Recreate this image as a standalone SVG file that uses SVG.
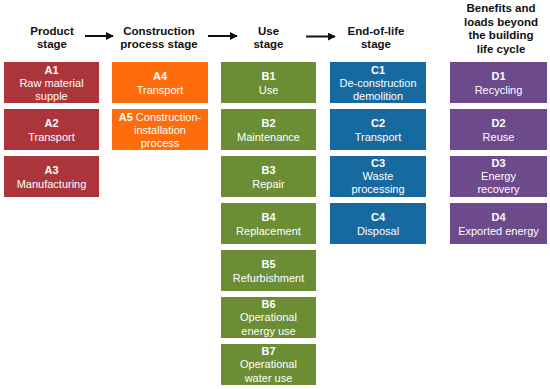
<svg xmlns="http://www.w3.org/2000/svg" width="550" height="389" viewBox="0 0 550 389">
<style>
.h{font-family:"Liberation Sans",Arial,sans-serif;font-weight:bold;font-size:11.5px;fill:#111;text-anchor:middle}
.t{font-family:"Liberation Sans",Arial,sans-serif;font-size:11px;fill:#fff;text-anchor:middle}
.b{font-weight:bold}
.A{fill:#ab353b}.O{fill:#fe6c0c}.G{fill:#6b8e35}.C{fill:#176aa0}.D{fill:#6c4a8c}
.arr{stroke:#111;stroke-width:2;fill:none;marker-end:url(#ah)}
</style>
<defs>
<marker id="ah" viewBox="0 0 10 10" refX="9" refY="5" markerWidth="4" markerHeight="4" orient="auto" markerUnits="strokeWidth">
<path d="M0,0 L10,5 L0,10 z" fill="#111"/>
</marker>
</defs>
<rect width="550" height="389" fill="#fff"/>
<g id="headers">
<text class="h" x="52" y="34.5">Product<tspan x="52" dy="13.5">stage</tspan></text>
<text class="h" x="159" y="34.5">Construction<tspan x="159" dy="13.5">process stage</tspan></text>
<text class="h" x="268.5" y="34.5">Use<tspan x="268.5" dy="13.5">stage</tspan></text>
<text class="h" x="376" y="34.5">End-of-life<tspan x="376" dy="13.5">stage</tspan></text>
<text class="h" x="501" y="12">Benefits and<tspan x="501" dy="13.7">loads beyond</tspan><tspan x="501" dy="13.7">the building</tspan><tspan x="501" dy="13.7">life cycle</tspan></text>
</g>
<g id="connectors">
<line class="arr" x1="85" y1="36" x2="113" y2="36"/>
<line class="arr" x1="208" y1="36" x2="237" y2="36"/>
<line class="arr" x1="306" y1="36.5" x2="335" y2="36.5"/>
</g>
<g id="A1"><rect class="A" x="4" y="62" width="95" height="41"/><text class="t" x="51.5" y="74"><tspan class="b">A1</tspan><tspan x="51.5" dy="12.8">Raw material</tspan><tspan x="51.5" dy="12.8">supple</tspan></text></g>
<g id="A2"><rect class="A" x="4" y="109" width="95" height="41"/><text class="t" x="51.5" y="127"><tspan class="b">A2</tspan><tspan x="51.5" dy="13.5">Transport</tspan></text></g>
<g id="A3"><rect class="A" x="4" y="156" width="95" height="41"/><text class="t" x="51.5" y="174"><tspan class="b">A3</tspan><tspan x="51.5" dy="13.5">Manufacturing</tspan></text></g>
<g id="A4"><rect class="O" x="112" y="62" width="96" height="41"/><text class="t" x="160" y="80"><tspan class="b">A4</tspan><tspan x="160" dy="13.5">Transport</tspan></text></g>
<g id="A5"><rect class="O" x="112" y="109" width="96" height="41"/><text class="t" x="160" y="121"><tspan class="b">A5</tspan> Construction-<tspan x="160" dy="12.8">installation</tspan><tspan x="160" dy="12.8">process</tspan></text></g>
<g id="B1"><rect class="G" x="221" y="62" width="95" height="41"/><text class="t" x="268.5" y="80"><tspan class="b">B1</tspan><tspan x="268.5" dy="13.5">Use</tspan></text></g>
<g id="B2"><rect class="G" x="221" y="109" width="95" height="41"/><text class="t" x="268.5" y="127"><tspan class="b">B2</tspan><tspan x="268.5" dy="13.5">Maintenance</tspan></text></g>
<g id="B3"><rect class="G" x="221" y="156" width="95" height="41"/><text class="t" x="268.5" y="174"><tspan class="b">B3</tspan><tspan x="268.5" dy="13.5">Repair</tspan></text></g>
<g id="B4"><rect class="G" x="221" y="203" width="95" height="41"/><text class="t" x="268.5" y="221"><tspan class="b">B4</tspan><tspan x="268.5" dy="13.5">Replacement</tspan></text></g>
<g id="B5"><rect class="G" x="221" y="250" width="95" height="41"/><text class="t" x="268.5" y="268"><tspan class="b">B5</tspan><tspan x="268.5" dy="13.5">Refurbishment</tspan></text></g>
<g id="B6"><rect class="G" x="221" y="297" width="95" height="41"/><text class="t" x="268.5" y="307.5"><tspan class="b">B6</tspan><tspan x="268.5" dy="13.5">Operational</tspan><tspan x="268.5" dy="13.5">energy use</tspan></text></g>
<g id="B7"><rect class="G" x="221" y="344" width="95" height="41"/><text class="t" x="268.5" y="354.5"><tspan class="b">B7</tspan><tspan x="268.5" dy="13.5">Operational</tspan><tspan x="268.5" dy="13.5">water use</tspan></text></g>
<g id="C1"><rect class="C" x="330" y="62" width="96" height="41"/><text class="t" x="378" y="74"><tspan class="b">C1</tspan><tspan x="378" dy="12.8">De-construction</tspan><tspan x="378" dy="12.8">demolition</tspan></text></g>
<g id="C2"><rect class="C" x="330" y="109" width="96" height="41"/><text class="t" x="378" y="127"><tspan class="b">C2</tspan><tspan x="378" dy="13.5">Transport</tspan></text></g>
<g id="C3"><rect class="C" x="330" y="156" width="96" height="41"/><text class="t" x="378" y="167"><tspan class="b">C3</tspan><tspan x="378" dy="13">Waste</tspan><tspan x="378" dy="13">processing</tspan></text></g>
<g id="C4"><rect class="C" x="330" y="203" width="96" height="41"/><text class="t" x="378" y="221"><tspan class="b">C4</tspan><tspan x="378" dy="13.5">Disposal</tspan></text></g>
<g id="D1"><rect class="D" x="450" y="62" width="97" height="41"/><text class="t" x="498.5" y="80"><tspan class="b">D1</tspan><tspan x="498.5" dy="13.5">Recycling</tspan></text></g>
<g id="D2"><rect class="D" x="450" y="109" width="97" height="41"/><text class="t" x="498.5" y="127"><tspan class="b">D2</tspan><tspan x="498.5" dy="13.5">Reuse</tspan></text></g>
<g id="D3"><rect class="D" x="450" y="156" width="97" height="41"/><text class="t" x="498.5" y="167"><tspan class="b">D3</tspan><tspan x="498.5" dy="13">Energy</tspan><tspan x="498.5" dy="13">recovery</tspan></text></g>
<g id="D4"><rect class="D" x="450" y="203" width="97" height="41"/><text class="t" x="498.5" y="221"><tspan class="b">D4</tspan><tspan x="498.5" dy="13.5">Exported energy</tspan></text></g>
</svg>
